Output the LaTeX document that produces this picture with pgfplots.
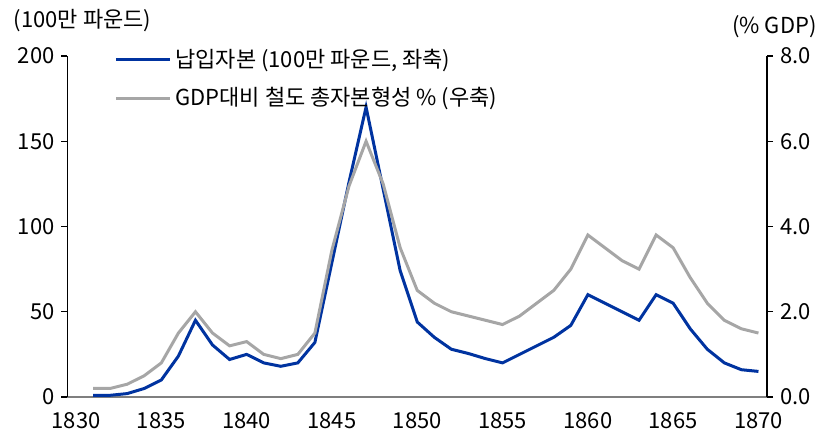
\documentclass[border=0pt]{standalone}
\usepackage{fontspec}
\setmainfont{Noto Sans CJK KR}
\usepackage{pgfplots}
\pgfplotsset{compat=1.18}
\usetikzlibrary{calc}

\definecolor{navy}{HTML}{0033A0}
\definecolor{lgray}{HTML}{A6A6A6}
\definecolor{axgray}{HTML}{7F7F7F}

\pgfplotsset{
  base/.style={
    scale only axis, width=349.75pt, height=170.5pt,
    at={(0,0)}, anchor=south west,
    xmin=1829.5, xmax=1870.5,
    font=\fontsize{11}{13}\selectfont,
    /pgf/number format/assume math mode=true,
    tick align=outside,
    major tick length=3pt, minor tick length=3pt,
    every tick/.style={black, line width=0.6pt},
  },
}

\begin{document}
\begin{tikzpicture}
\begin{axis}[base, name=ax,
  axis x line*=bottom, axis y line*=left,
  ymin=0, ymax=200, ytick={0,50,...,200},
  xtick={1830,1835,...,1870},
  x tick label style={/pgf/number format/1000 sep={}},
  minor xtick={1829.5,1830.5,...,1870.5},
  x axis line style={axgray, line width=0.8pt},
  y axis line style={black, line width=0.6pt},
  xtick style={draw=none},
  minor x tick style={axgray, line width=0.6pt},
  x tick label style={yshift=-1pt},
]
\addplot[navy, line width=1.5pt] coordinates {
(1831,1)(1832,1)(1833,2)(1834,5)(1835,10)(1836,24)(1837,45)(1838,30.5)(1839,22)(1840,25)
(1841,20)(1842,18)(1843,20)(1844,32)(1845,79)(1846,126)(1847,170)(1848,122)(1849,74)(1850,44)
(1851,35)(1852,28)(1853,25.5)(1854,22.5)(1855,20)(1856,25)(1857,30)(1858,35)(1859,42)(1860,60)
(1861,55)(1862,50)(1863,45)(1864,60)(1865,55)(1866,40)(1867,28)(1868,20)(1869,16)(1870,15)};
\end{axis}
\begin{axis}[base,
  axis x line=none, axis y line*=right,
  ymin=0, ymax=8, ytick={0,2,...,8},
  y axis line style={black, line width=0.6pt},
  yticklabel style={/pgf/number format/.cd,fixed,fixed zerofill,precision=1},
  legend style={draw=none, fill=none, at={(rel axis cs:0.058,1.045)}, anchor=north west,
    cells={anchor=west}, row sep=4.5pt, font=\fontsize{11}{13}\selectfont},
  legend image code/.code={\draw[#1] (0pt,0pt) -- (27pt,0pt);},
]
\addlegendimage{navy, line width=1.5pt}
\addlegendentry{납입자본 (100만 파운드, 좌축)}
\addplot[lgray, line width=1.5pt] coordinates {
(1831,0.2)(1832,0.2)(1833,0.3)(1834,0.5)(1835,0.8)(1836,1.5)(1837,2.0)(1838,1.5)(1839,1.2)(1840,1.3)
(1841,1.0)(1842,0.9)(1843,1.0)(1844,1.5)(1845,3.45)(1846,4.95)(1847,6.0)(1848,5.0)(1849,3.5)(1850,2.5)
(1851,2.2)(1852,2.0)(1853,1.9)(1854,1.8)(1855,1.7)(1856,1.9)(1857,2.2)(1858,2.5)(1859,3.0)(1860,3.8)
(1861,3.5)(1862,3.2)(1863,3.0)(1864,3.8)(1865,3.5)(1866,2.8)(1867,2.2)(1868,1.8)(1869,1.6)(1870,1.5)};
\addlegendentry{GDP대비 철도 총자본형성 \% (우축)}
\end{axis}
\node[anchor=west, inner sep=0pt, font=\fontsize{11}{13}\selectfont] at ($(ax.north west)+(-27pt,17.5pt)$) {(100만 파운드)};
\node[anchor=east, inner sep=0pt, font=\fontsize{11}{13}\selectfont] at ($(ax.north east)+(25pt,14.5pt)$) {(\% GDP)};
\pgfresetboundingbox
\path ($(ax.south west)+(-33.75pt,-20pt)$) rectangle ($(ax.north east)+(29.5pt,28pt)$);
\end{tikzpicture}
\end{document}
